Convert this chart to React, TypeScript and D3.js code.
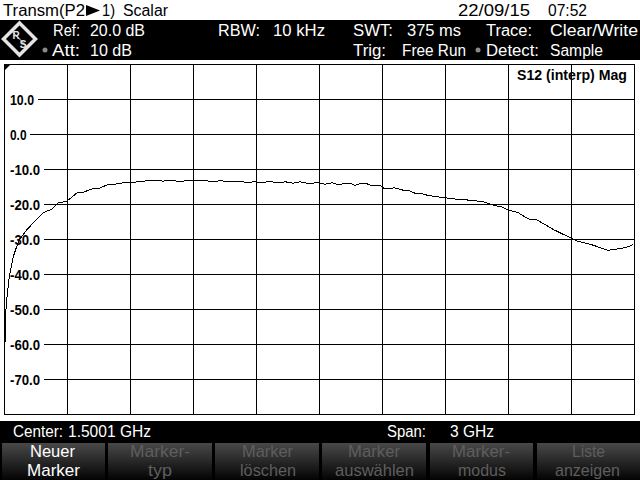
import React from "react";
import * as d3 from "d3";

const freqMHz = [2.4,3.3,10.5,23,42,66,98,136,183,226,255,298,345,369,421,455,488,536,574,598,645,707,755,802,836,883,931,964,979,1034,1050,1136,1160,1183,1231,1264,1288,1322,1336,1374,1407,1441,1469,1493,1526,1560,1593,1621,1645,1669,1702,1717,1750,1788,1807,1845,1855,1898,1931,1955,1979,2017,2074,2155,2202,2279,2321,2374,2398,2445,2493,2536,2612,2660,2702,2726,2802,2874,2931,2969,2993];
const magDb = [-59.6,-53,-47.3,-40.6,-34.9,-30.6,-27.8,-25.3,-22.4,-21.3,-19.6,-19.0,-16.7,-16.6,-15.5,-15.3,-14.4,-14.1,-13.7,-13.8,-13.4,-13.1,-13.3,-13.2,-13.4,-13.1,-13.2,-13.2,-13.5,-13.2,-13.5,-13.5,-13.8,-13.5,-13.7,-13.4,-13.7,-13.7,-13.5,-13.9,-13.5,-13.9,-13.9,-13.7,-14.2,-13.8,-14.4,-13.9,-13.9,-14.5,-13.9,-13.9,-14.6,-14.5,-15.4,-15.4,-15.2,-15.9,-16.1,-16.8,-16.8,-17.4,-17.9,-18.5,-18.7,-19.2,-20.1,-20.8,-21.6,-22.3,-24.1,-24.4,-27.1,-28.5,-29.7,-30.4,-31.6,-33.1,-32.6,-32.1,-31.4];
const yTicks = [10,0,-10,-20,-30,-40,-50,-60,-70];
const xTicks = [300,600,900,1200,1500,1800,2100,2400,2700];
const softKeys: [string,number,number,string,number,number,boolean][] = [
  ["Neuer",30,45,"Marker",27,53,true],
  ["Marker-",130,60,"typ",148,24,false],
  ["Marker",242,51,"löschen",240,56,false],
  ["Marker",348,52,"auswählen",335,79,false],
  ["Marker-",452,58,"modus",458,48,false],
  ["Liste",572,33,"anzeigen",555,65,false],
];
const keyEdges = [[2,105],[108,212],[215,319],[322,426],[430,533],[537,640]];

const x = d3.scaleLinear().domain([0,3000]).range([4.5,634.5]);
const y = d3.scaleLinear().domain([20,-80]).range([64.5,414.5]);
const trace = d3.line<number>().x((_,i)=>x(freqMHz[i])).y(d=>y(d))(magDb) as string;

const font = "'Liberation Sans', Arial, sans-serif";
const T = ({x:tx,y:ty,fill="#fff",size=16,w,weight=400,children}:any)=>(
  <text x={tx} y={ty} fill={fill} fontSize={size} fontWeight={weight} fontFamily={font}
    textLength={w} lengthAdjust="spacingAndGlyphs">{children}</text>
);

export default function App(){
  return (
    <svg width={640} height={480} viewBox="0 0 640 480" style={{position:"absolute",left:0,top:0,display:"block",background:"#fff"}}>
      <defs>
        <linearGradient id="key" x1="0" y1="0" x2="0" y2="1">
          <stop offset="0" stopColor="#484848"/>
          <stop offset="0.4" stopColor="#2e2e2e"/>
          <stop offset="1" stopColor="#030303"/>
        </linearGradient>
      </defs>
      <rect width={640} height={480} fill="#fff"/>
      <T x={3} y={16} fill="#000" w={82}>Transm(P2</T>
      <path d="M86 5 L86 16 L100 10.5 Z" fill="#000"/>
      <T x={102} y={16} fill="#000" w={13}>1)</T>
      <T x={123} y={16} fill="#000" w={45}>Scalar</T>
      <T x={458} y={16} fill="#000" w={72}>22/09/15</T>
      <T x={548} y={16} fill="#000" w={39}>07:52</T>

      <rect x={0} y={20} width={640} height={40} fill="#000"/>
      <g transform="translate(19.5,39)">
        <path d="M0 -16 L16 0 L0 16 L-16 0 Z" fill="none" stroke="#e4e4e4" strokeWidth={3.5}/>
        <path d="M-7 -7 L7 7" stroke="#e4e4e4" strokeWidth={1}/>
        <text x={-3.5} y={-0.5} textAnchor="middle" fill="#e4e4e4" fontSize={10} fontWeight={700} fontFamily={font}>R</text>
        <text x={3.5} y={9} textAnchor="middle" fill="#e4e4e4" fontSize={10} fontWeight={700} fontFamily={font}>S</text>
      </g>
      <circle cx={45} cy={50} r={2.5} fill="#888"/>
      <circle cx={478} cy={50} r={2.5} fill="#888"/>
      <T x={53} y={36} w={27}>Ref:</T>
      <T x={90} y={36} w={55}>20.0 dB</T>
      <T x={52} y={56} w={28}>Att:</T>
      <T x={90} y={56} w={42}>10 dB</T>
      <T x={218} y={36} w={42}>RBW:</T>
      <T x={273} y={36} w={52}>10 kHz</T>
      <T x={353} y={36} w={40}>SWT:</T>
      <T x={407} y={36} w={54}>375 ms</T>
      <T x={353} y={56} w={33}>Trig:</T>
      <T x={402} y={56} w={64}>Free Run</T>
      <T x={486} y={36} w={46}>Trace:</T>
      <T x={486} y={56} w={53}>Detect:</T>
      <T x={550} y={36} w={88}>Clear/Write</T>
      <T x={550} y={56} w={53}>Sample</T>

      <rect x={x(0)} y={y(20)} width={x(3000)-x(0)} height={y(-80)-y(20)} fill="#fff" stroke="#000" strokeWidth={1}/>
      <path d={`M${x(0)} ${y(20)} h6 l-6 6 Z`} fill="#000"/>
      {xTicks.map(t=><line key={t} x1={x(t)} x2={x(t)} y1={y(20)} y2={y(-80)} stroke="#000" strokeWidth={1}/>)}
      {yTicks.map(t=>(
        <line key={t} x1={t===10?38:t===0?30:44} x2={x(3000)} y1={y(t)} y2={y(t)} stroke="#000" strokeWidth={1}/>
      ))}
      {yTicks.map(t=>(
        <T key={t} x={10} y={y(t)+5.5} fill="#000" size={15.5} weight={700} w={t===10?24:t===0?16.5:30}>{t.toFixed(1)}</T>
      ))}
      <T x={517} y={80} fill="#000" size={15} weight={700} w={110}>S12 (interp) Mag</T>
      <path d={trace} fill="none" stroke="#000" strokeWidth={1} shapeRendering="crispEdges"/>

      <rect x={0} y={421} width={640} height={59} fill="#000"/>
      <T x={13} y={437} w={50}>Center:</T>
      <T x={68} y={437} w={83}>1.5001 GHz</T>
      <T x={387} y={437} w={39}>Span:</T>
      <T x={450} y={437} w={44}>3 GHz</T>
      {softKeys.map(([a,ax,aw,b,bx,bw,on],i)=>{
        const [l,r]=keyEdges[i]; const col=on?"#fff":"#5e5e5e";
        return <g key={i}>
          <rect x={l} y={443} width={r-l} height={37} fill="url(#key)"/>
          <T x={ax} y={457} fill={col} size={17} w={aw}>{a}</T>
          <T x={bx} y={476} fill={col} size={17} w={bw}>{b}</T>
        </g>;
      })}
    </svg>
  );
}
